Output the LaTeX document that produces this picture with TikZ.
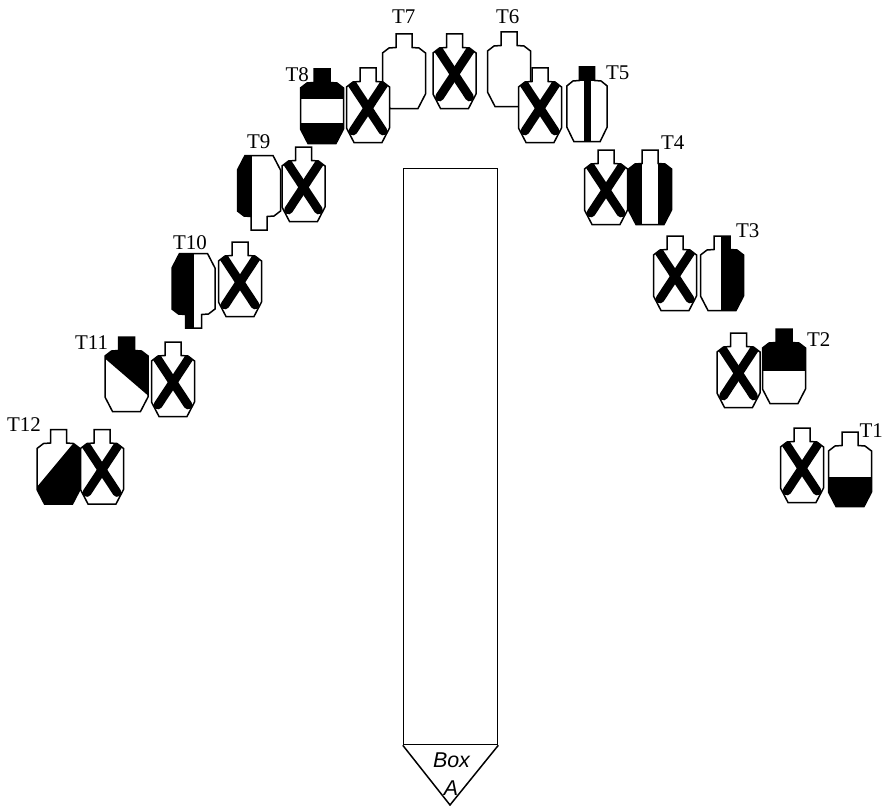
\documentclass[tikz,border=0pt]{standalone}
\usepackage{fontspec}
\setmainfont{Liberation Serif}
\newfontfamily\boxfont{Liberation Sans}
\newcommand{\silhpath}{(-8,0) -- (8,0) -- (8,13.5) -- (15,14) -- (21.5,19) -- (21.5,60) -- (14,74.5) -- (-14,74.5) -- (-21.5,60) -- (-21.5,19) -- (-15,14) -- (-8,13.5) -- cycle}
\tikzset{
  outl/.style={draw=black,line width=1.5bp,line join=miter},
  xarm/.style={draw=black,line width=8.8bp,line cap=round},
  tlabel/.style={anchor=base west,inner sep=0pt,font=\fontsize{21}{21}\selectfont,text=black},
  boxlabel/.style={inner sep=0pt,font=\boxfont\itshape\fontsize{21.5}{21.5}\selectfont,text=black},
  boxbody/.style={draw=black,line width=1.5bp,fill=white,rectangle,inner sep=0pt,minimum width=94bp,minimum height=576bp}
}
% crossed-out target: centre x, top y
\newcommand{\xtarget}[2]{%
  \begin{scope}[shift={(#1,#2)}]
    \fill[white] \silhpath;
    \begin{scope}
      \clip \silhpath;
      \draw[xarm] (-16,16) -- (15,63);
      \draw[xarm] (16,16) -- (-15,63);
    \end{scope}
    \draw[outl] \silhpath;
  \end{scope}}
% marked target: scope options, centre x, reference y, black fill commands
\newcommand{\mtarget}[4][]{%
  \begin{scope}[shift={(#2,#3)},#1]
    \fill[white] \silhpath;
    \begin{scope}
      \clip \silhpath;
      #4
    \end{scope}
    \draw[outl] \silhpath;
  \end{scope}}
\begin{document}
\begin{tikzpicture}[x=1bp,y=-1bp]
\useasboundingbox (0,0) rectangle (883,806);
% Box A
\node[boxbody,anchor=north west] (boxa) at (402.8,167.8) {};
\coordinate (tip) at (450,805);
\draw[outl] (boxa.south west) -- (tip) -- (boxa.south east);
\node[boxlabel] (boxw) at (451.5,760) {Box};
\node[boxlabel] (boxl) at (451,788.5) {A};
% T6, T7
\mtarget{509}{32}{}
\mtarget{404}{34}{}
% crossed targets
\xtarget{102}{429.5}
\xtarget{173}{342}
\xtarget{240}{242}
\xtarget{303.5}{147}
\xtarget{368}{68}
\xtarget{454.5}{34}
\xtarget{540}{68}
\xtarget{606}{150}
\xtarget{675}{236}
\xtarget{738.5}{333}
\xtarget{802}{428}
% marked targets
\mtarget{58.5}{429.5}{\fill (-22,58) -- (13,16) -- (25,1.6) -- (25,80) -- (-25,80) -- cycle;}
\mtarget{126.5}{337}{\fill (-25,18.5) -- (25,61.5) -- (25,-5) -- (-25,-5) -- cycle;}
\mtarget[yscale=-1]{193.5}{328}{\fill (-25,-5) rectangle (0,80);}
\mtarget[yscale=-1]{259}{230}{\fill (-25,-5) rectangle (-7.3,80);}
\mtarget{322}{69}{\fill (-25,-5) rectangle (25,30); \fill (-25,54) rectangle (25,80);}
\mtarget[xscale=0.94]{587}{67}{\fill (-10,-5) rectangle (10,14); \fill (-3.5,0) rectangle (4.5,80);}
\mtarget{650}{150}{\fill (-25,-5) rectangle (-8,80); \fill (8,-5) rectangle (25,80);}
\mtarget{722}{236}{\fill (-1,-5) rectangle (25,80);}
\mtarget{784}{329}{\fill (-25,-5) rectangle (25,42);}
\mtarget{850}{432}{\fill (-25,45) rectangle (25,80);}
% labels
\node[tlabel] (t1) at (859.5,437) {T1};
\node[tlabel] (t2) at (807,346) {T2};
\node[tlabel] (t3) at (736,237) {T3};
\node[tlabel] (t4) at (661,149) {T4};
\node[tlabel] (t5) at (606,80) {T5};
\node[tlabel] (t6) at (496,24) {T6};
\node[tlabel] (t7) at (392,24) {T7};
\node[tlabel] (t8) at (285.5,82) {T8};
\node[tlabel] (t9) at (247,148) {T9};
\node[tlabel] (t10) at (173,249) {T10};
\node[tlabel] (t11) at (75,349) {T11};
\node[tlabel] (t12) at (7,431) {T12};
\end{tikzpicture}
\end{document}
